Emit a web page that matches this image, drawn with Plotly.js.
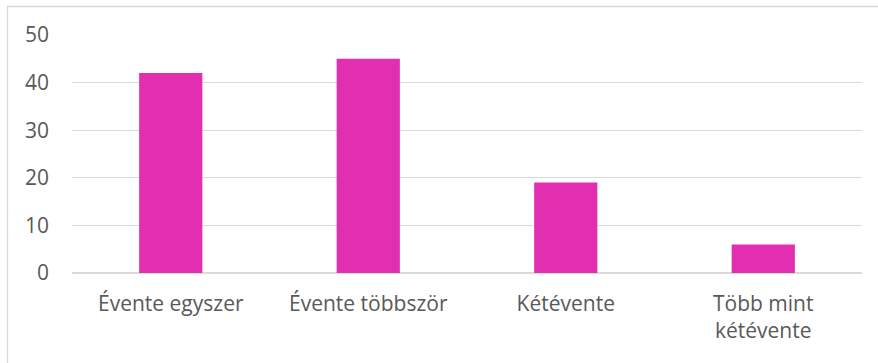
<!DOCTYPE html>
<html>
<head>
<meta charset="utf-8">
<script src="https://cdn.plot.ly/plotly-3.0.1.min.js"></script>
<style>html,body{margin:0;padding:0;background:#fff;}#chart{width:878px;height:363px;}</style>
</head>
<body>
<div id="chart"></div>
<script>
const categories = ["Évente egyszer", "Évente többször", "Kétévente", "Több mint<br>kétévente"];
const values = [42, 45, 19, 6];
const yTicks = [0, 10, 20, 30, 40, 50];

const W = 878, H = 363, L = 72, R = 16, T = 35, B = 90;
const pw = W - L - R, ph = H - T - B;
const px = v => (v - L) / pw;
const py = v => (H - B - v) / ph;

Plotly.newPlot('chart', [{
  type: 'bar',
  x: categories,
  y: values,
  marker: {color: '#E22EB1'},
  hoverinfo: 'none'
}], {
  width: W, height: H,
  margin: {l: L, r: R, t: T, b: B, pad: 0},
  paper_bgcolor: '#fff', plot_bgcolor: '#fff',
  bargap: 0.68,
  showlegend: false,
  font: {family: 'Open Sans, sans-serif', size: 21, color: '#595959'},
  xaxis: {
    type: 'category',
    showgrid: false, zeroline: false, showline: false,
    ticks: '', ticklabelstandoff: 16,
    tickfont: {size: 21, color: '#595959'}
  },
  yaxis: {
    range: [0, 50],
    tickvals: yTicks,
    showgrid: true, gridcolor: '#D9D9D9', gridwidth: 1.3,
    zeroline: true, zerolinecolor: '#D9D9D9', zerolinewidth: 1.3,
    showline: false, ticks: '', ticklabelstandoff: 22,
    tickfont: {size: 21, color: '#595959'}
  },
  shapes: [{
    type: 'rect', xref: 'paper', yref: 'paper', layer: 'below',
    x0: px(7.5), x1: px(884), y0: py(370), y1: py(6.5),
    line: {color: '#D9D9D9', width: 1.3}, fillcolor: 'rgba(0,0,0,0)'
  }]
}, {displayModeBar: false, staticPlot: true});
</script>
</body>
</html>
